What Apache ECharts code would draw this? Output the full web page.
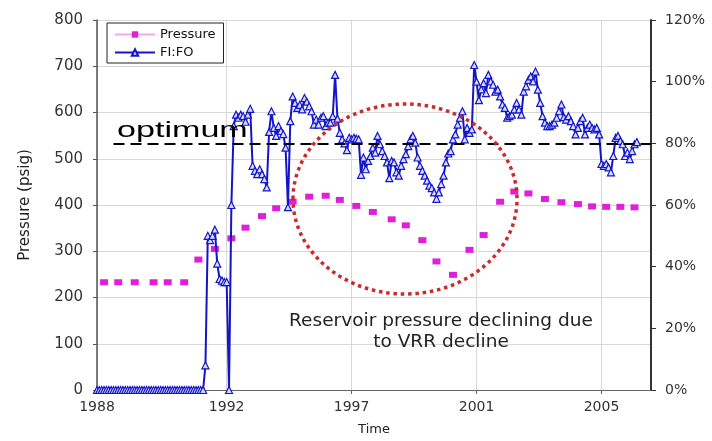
<!DOCTYPE html>
<html><head><meta charset="utf-8">
<script src="https://cdn.jsdelivr.net/npm/echarts@6/dist/echarts.min.js"></script>
<style>html,body{margin:0;padding:0;background:#fff}#c{width:712px;height:441px}</style>
</head><body><div id="c"></div>
<script>
// x axis: period index (one FI:FO reading per period)
const xTickPositions = [0, 55, 108, 161, 214];
const xTickLabels = ['1988', '1992', '1997', '2001', '2005'];
const xMax = 235;

// FI:FO (%) for periods 0..229
const fifoValues = [
  0,0,0,0,0,0,0,0,0,0, 0,0,0,0,0,0,0,0,0,0, 0,0,0,0,0,0,0,0,0,0, 0,0,0,0,0,0,0,0,0,0, 0,0,0,0,0,0,
  8, 50, 48.6, 50, 52, 41, 36, 35.5, 35, 35, 0, 60,
  85.6, 89.3, 88.3, 89.3, 88.8, 87, 89.3, 91.2, 72.7, 71.1, 70, 71.6, 70, 68.4, 65.7, 83.7, 90.4, 85, 82.4, 85.6,
  84, 83, 78.6, 59.3, 87.2, 95.2, 93.1, 91.5, 92.5, 91, 94.7, 93.5, 92, 90.4, 86.1, 87.7, 86.1, 88.3, 88.8, 85.6,
  86.7, 86.7, 88.8, 102.2,
  88, 83.4, 81.3, 80, 77.8, 81.8, 81.3, 81.8, 81.5, 81.3, 69.8,
  75.4, 71.6, 74.3, 75.9, 78.6, 77, 82.4, 79.7, 77.5, 75.9, 73.8, 68.7, 74.3, 73.8, 70.6, 69.5, 72.7, 74.9, 76.5, 79.1,
  81.3, 82.4, 80.2, 75.4, 72.7, 71.1, 69.5, 67.9, 66.3, 65.5, 64.1, 62, 64.1, 66.8, 69.5, 73.8, 76.7, 77.5, 81.3, 82.9,
  86.1, 88.3, 90.4, 81.3, 85, 83.4, 84.5,
  105.4, 100, 94, 97.5, 99.5, 96.3, 102.2, 100.1, 99, 96.8, 97.4, 95.2, 92.6, 91.5, 88.3, 88.8, 89.3, 91, 93.1, 91,
  89.3, 96.8, 98.5, 100.6, 101.7, 100.1, 103.3, 97.4, 93.1, 88.8, 86.7, 85.6, 85.6, 86.1, 86.7, 88.3, 90.4, 92.6, 88.5, 87.7,
  88.8, 87.2, 85.6, 82.9, 85, 87.2, 88.3, 82.9, 85, 86.1, 85, 84.5, 85, 82.9, 73.3, 72.7, 73.3, 72.2, 70.6, 75.9,
  81.8, 82.4, 80.8, 79.7, 75.9, 77, 74.9, 77.5, 79.7, 80.4
];

// Pressure (psig) readings at period indices
const pressureIdx = [3, 9, 16, 24, 30, 37, 43, 50, 57, 63, 70, 76, 83, 90, 97, 103, 110, 117, 125, 131,
  138, 144, 151, 158, 164, 171, 177, 183, 190, 197, 204, 210, 216, 222, 228];
const pressureValues = [233, 233, 233, 233, 233, 233, 282, 305, 328, 351, 376, 393, 407, 418, 420, 411, 398, 385, 369, 356,
  324, 278, 249, 303, 335, 407, 429, 425, 413, 406, 402, 397, 396, 396, 395];

const optimumLevel = 80; // % FI:FO
const leftAxis = { min: 0, max: 800, interval: 100 };
const rightAxis = { min: 0, max: 120, interval: 20 };

const fifoData = fifoValues.map((v, i) => [i, v]);
const pressureData = pressureIdx.map((x, i) => [x, pressureValues[i]]);

const chart = echarts.init(document.getElementById('c'));
const labelFont = 'DejaVu Sans';
chart.setOption({
  animation: false,
  backgroundColor: '#fff',
  grid: { left: 97, right: 61, top: 20, bottom: 50 },
  legend: {
    left: 107, top: 23, orient: 'vertical',
    itemWidth: 40, itemHeight: 8, itemGap: 5,
    padding: [5, 8, 4, 7],
    borderColor: '#222', borderWidth: 1, backgroundColor: '#fff',
    textStyle: { fontFamily: labelFont, fontSize: 13, color: '#111' },
    data: [
      { name: 'Pressure', lineStyle: { color: '#f0a8f0', width: 2, opacity: 1 } },
      { name: 'FI:FO' }
    ]
  },
  xAxis: {
    type: 'value', min: 0, max: xMax,
    name: 'Time', nameLocation: 'middle', nameGap: 33,
    nameTextStyle: { fontFamily: labelFont, fontSize: 13, color: '#222' },
    axisLine: { lineStyle: { color: '#666', width: 1 } },
    axisTick: { show: true, length: 4, customValues: xTickPositions, lineStyle: { color: '#666' } },
    axisLabel: {
      customValues: xTickPositions, margin: 10,
      fontFamily: labelFont, fontSize: 14, color: '#333',
      formatter: v => xTickLabels[xTickPositions.indexOf(v)] || ''
    },
    splitLine: { show: true, lineStyle: { color: '#d8d8d8' } }
  },
  yAxis: [
    {
      type: 'value', min: leftAxis.min, max: leftAxis.max, interval: leftAxis.interval,
      name: 'Pressure (psig)', nameLocation: 'middle', nameGap: 64, nameRotate: 90,
      nameTextStyle: { fontFamily: labelFont, fontSize: 15, color: '#222' },
      axisLine: { show: true, lineStyle: { color: '#555', width: 1.5 } },
      axisTick: { show: true, length: 4, lineStyle: { color: '#555' } },
      axisLabel: { margin: 14, fontFamily: labelFont, fontSize: 15, color: '#333' },
      splitLine: { show: true, lineStyle: { color: '#d8d8d8' } }
    },
    {
      type: 'value', min: rightAxis.min, max: rightAxis.max, interval: rightAxis.interval,
      position: 'right',
      axisLine: { show: true, lineStyle: { color: '#333', width: 2 } },
      axisTick: { show: true, length: 5, lineStyle: { color: '#333' } },
      axisLabel: { margin: 14, fontFamily: labelFont, fontSize: 14, color: '#333', formatter: '{value}%' },
      splitLine: { show: false }
    }
  ],
  series: [
    {
      name: 'Pressure', type: 'line', yAxisIndex: 0, data: pressureData,
      symbol: 'rect', symbolSize: [8, 6], showSymbol: true,
      lineStyle: { opacity: 0 },
      itemStyle: { color: '#e020d8' },
      z: 3
    },
    {
      name: 'FI:FO', type: 'line', yAxisIndex: 1, data: fifoData,
      symbol: 'triangle', symbolSize: 7, showSymbol: true,
      lineStyle: { color: '#1414c8', width: 2 },
      itemStyle: { color: '#d4dcff', borderColor: '#1414c8', borderWidth: 1.2 },
      z: 4,
      markLine: {
        silent: true, symbol: 'none',
        lineStyle: { color: '#000', type: [11, 6], width: 2 },
        label: { show: false },
        data: [[{ coord: [7, optimumLevel] }, { coord: [xMax, optimumLevel] }]]
      }
    }
  ],
  graphic: [
    {
      type: 'text', x: 117, y: 120, z: 100,
      scaleX: 1.55,
      style: { text: 'optimum', font: '22px "Liberation Sans"', fill: '#000' }
    },
    {
      type: 'ellipse', z: 100, silent: true,
      shape: { cx: 405, cy: 199, rx: 112, ry: 95 },
      style: { fill: null, stroke: '#cc2a2a', lineWidth: 3.5, lineDash: [3.5, 3.8] }
    },
    {
      type: 'text', x: 441, y: 311, z: 100, scaleX: 1.09,
      style: {
        text: 'Reservoir pressure declining due\nto VRR decline',
        font: '17px "DejaVu Sans"', fill: '#222', align: 'center', lineHeight: 21
      }
    }
  ]
});
</script>
</body></html>
